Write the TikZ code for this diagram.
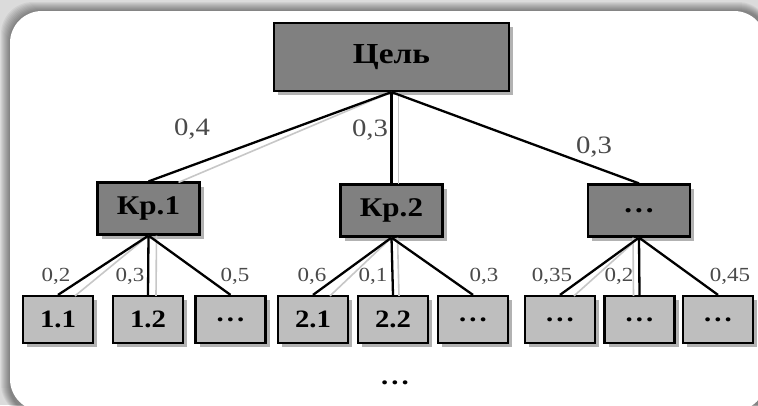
\documentclass[tikz,border=0pt]{standalone}
\usepackage{fontspec}
\setmainfont[FakeStretch=1.15]{Liberation Serif}
\usetikzlibrary{calc,shadows}
\definecolor{darkbox}{HTML}{808080}
\definecolor{lightbox}{HTML}{BEBEBE}
\definecolor{lbl}{HTML}{4A4A4A}
\newcommand{\mydots}{.\kern3pt.\kern3pt.}
\begin{document}
\begin{tikzpicture}[x=1pt,y=-1pt,
  boxbase/.style={draw=black, line width=2.2pt, inner sep=0pt, anchor=center,
    drop shadow={shadow xshift=4pt,shadow yshift=-4pt,fill=black,opacity=0.3}},
  topbox/.style={boxbase, fill=darkbox, minimum width=235pt, minimum height=68pt,
    font=\fontsize{29}{31}\selectfont\bfseries},
  midbox/.style={boxbase, fill=darkbox, minimum width=102pt, minimum height=52pt,
    font=\fontsize{27}{29}\selectfont\bfseries},
  leafbox/.style={boxbase, fill=lightbox, minimum width=70pt, minimum height=47pt,
    font=\fontsize{25}{27}\selectfont\bfseries},
  edge/.style={draw=black, line width=2.3pt},
  edgeshadow/.style={draw=black!22, line width=1.6pt},
  biglbl/.style={text=lbl, font=\fontsize{25}{27}\selectfont, inner sep=0pt},
  smalllbl/.style={text=lbl, font=\fontsize{20}{22}\selectfont, inner sep=0pt}
]
\useasboundingbox (0,0) rectangle (758,405);
% background and panel
\fill[black!14] (0,0) rectangle (758,405);
\foreach \k in {1,...,9}{
  \fill[black, opacity=0.05, rounded corners=32pt] (10-\k,11-\k) rectangle (770,416);
}
\fill[white, rounded corners=32pt] (10,11) rectangle (766,411);

% nodes
\node[topbox] (cel) at (391.5,57) {Цель};
\node[midbox] (k1) at (148.5,208.5) {Кр.1};
\node[midbox] (k2) at (391.5,210.5) {Кр.2};
\node[midbox] (k3) at (639,210.5) {\mydots};
\node[leafbox] (b11) at (58,319.5) {1.1};
\node[leafbox] (b12) at (148,319.5) {1.2};
\node[leafbox] (b13) at (230.5,319.5) {\mydots};
\node[leafbox] (b21) at (313,319.5) {2.1};
\node[leafbox] (b22) at (393,319.5) {2.2};
\node[leafbox] (b23) at (473,319.5) {\mydots};
\node[leafbox] (b31) at (560,319.5) {\mydots};
\node[leafbox] (b32) at (639.5,319.5) {\mydots};
\node[leafbox] (b33) at (718,319.5) {\mydots};

% connector shadows
\draw[edgeshadow] (cel.south) -- ($(k1.north)+(30,1)$);
\draw[edgeshadow] ($(cel.south)+(7,0)$) -- ($(k2.north)+(7,1)$);
\draw[edgeshadow] (k1.south) -- ($(b11.north)+(17,1)$);
\draw[edgeshadow] ($(k1.south)+(8,0)$) -- ($(b12.north)+(8,1)$);
\draw[edgeshadow] (k2.south) -- ($(b21.north)+(17,1)$);
\draw[edgeshadow] ($(k2.south)+(6,0)$) -- ($(b22.north)+(6,1)$);
\draw[edgeshadow] (k3.south) -- ($(b31.north)+(14,1)$);
\draw[edgeshadow] ($(k3.south)+(-6,0)$) -- ($(b32.north)+(-6,1)$);

% connectors
\draw[edge] (cel.south) -- (k1.north);
\draw[edge] (cel.south) -- (k2.north);
\draw[edge] (cel.south) -- (k3.north);
\draw[edge] (k1.south) -- (b11.north);
\draw[edge] (k1.south) -- (b12.north);
\draw[edge] (k1.south) -- (b13.north);
\draw[edge] (k2.south) -- (b21.north);
\draw[edge] (k2.south) -- (b22.north);
\draw[edge] (k2.south) -- (b23.north);
\draw[edge] (k3.south) -- (b31.north);
\draw[edge] (k3.south) -- (b32.north);
\draw[edge] (k3.south) -- (b33.north);

% weights
\node[biglbl] (w1) at (192,129) {0,4};
\node[biglbl] (w2) at (370,130) {0,3};
\node[biglbl] (w3) at (594,147) {0,3};
\node[smalllbl] (w11) at (56,276) {0,2};
\node[smalllbl] (w12) at (130,276) {0,3};
\node[smalllbl] (w13) at (235,276) {0,5};
\node[smalllbl] (w21) at (312,276) {0,6};
\node[smalllbl] (w22) at (373,276) {0,1};
\node[smalllbl] (w23) at (484,276) {0,3};
\node[smalllbl] (w31) at (552,276) {0,35};
\node[smalllbl] (w32) at (619,276) {0,2};
\node[smalllbl] (w33) at (730,276) {0,45};

\node[font=\fontsize{25}{27}\selectfont\bfseries, inner sep=0pt] (more) at (395,383) {\mydots};
\end{tikzpicture}
\end{document}
